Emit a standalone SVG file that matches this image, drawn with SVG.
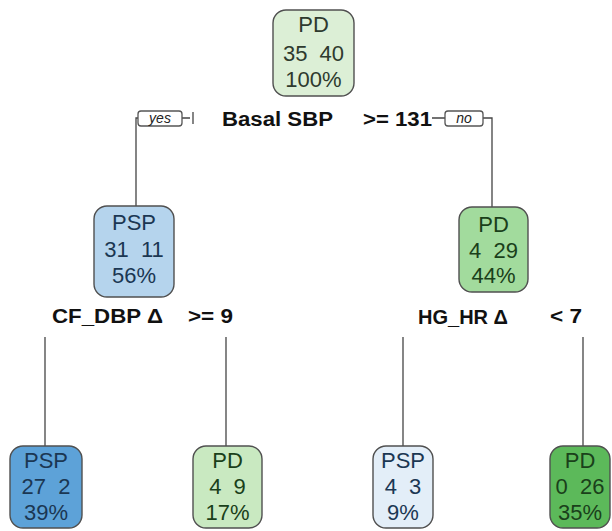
<svg xmlns="http://www.w3.org/2000/svg" width="612" height="531" viewBox="0 0 612 531">
<style>
.box{stroke:#505050;stroke-width:1.4}
.nt{font-family:"Liberation Sans",Arial,sans-serif;font-size:22px;text-anchor:middle;white-space:pre}
.sl{font-family:"Liberation Sans",Arial,sans-serif;font-size:20px;font-weight:bold;fill:#111}
.yn{font-family:"Liberation Sans",Arial,sans-serif;font-size:14px;font-style:italic;fill:#222;text-anchor:middle}
.ynb{fill:#fff;stroke:#555;stroke-width:1.3}
.ln{stroke:#444;stroke-width:1.3;fill:none}
.blue{fill:#1b3753}
.green{fill:#1a401a}
</style>
<g id="connectors">
<path class="ln" d="M190,118 H136 V206"/>
<path class="ln" d="M432,118 H492 V207"/>
<line class="ln" x1="193" y1="112" x2="193" y2="124" stroke="#aaa"/>
<line class="ln" x1="45" y1="337" x2="45" y2="446"/>
<line class="ln" x1="226" y1="337" x2="226" y2="446"/>
<line class="ln" x1="403" y1="337" x2="403" y2="446"/>
<line class="ln" x1="583" y1="337" x2="583" y2="446"/>
<rect class="ynb" x="138" y="111" width="44" height="15" rx="3"/>
<text class="yn" x="160" y="123">yes</text>
<rect class="ynb" x="445" y="111" width="38" height="15" rx="3"/>
<text class="yn" x="464" y="123">no</text>
</g>
<g id="split-labels">
<text class="sl" x="222" y="126" textLength="111" lengthAdjust="spacingAndGlyphs">Basal SBP</text>
<text class="sl" x="363" y="126" textLength="69" lengthAdjust="spacingAndGlyphs">&gt;= 131</text>
<text class="sl" x="52" y="323" textLength="111" lengthAdjust="spacingAndGlyphs">CF_DBP Δ</text>
<text class="sl" x="188" y="323" textLength="45" lengthAdjust="spacingAndGlyphs">&gt;= 9</text>
<text class="sl" x="418" y="324" textLength="90" lengthAdjust="spacingAndGlyphs">HG_HR Δ</text>
<text class="sl" x="550" y="323" textLength="32" lengthAdjust="spacingAndGlyphs">&lt; 7</text>
</g>
<g id="node-root">
<rect class="box" x="273" y="10" width="81" height="86" rx="13" fill="#dcefd6"/>
<text class="nt" x="313.5" y="32" fill="#2e3a2e">PD</text>
<text class="nt" x="313.5" y="61" fill="#2e3a2e">35  40</text>
<text class="nt" x="313.5" y="87" fill="#2e3a2e">100%</text>
</g>
<g id="node-psp1">
<rect class="box" x="94" y="206" width="80" height="91" rx="13" fill="#b5d4ed"/>
<text class="nt blue" x="134" y="230">PSP</text>
<text class="nt blue" x="134" y="257">31  11</text>
<text class="nt blue" x="134" y="283">56%</text>
</g>
<g id="node-pd1">
<rect class="box" x="459" y="207" width="69" height="85" rx="13" fill="#a2db9d"/>
<text class="nt green" x="493.5" y="232">PD</text>
<text class="nt green" x="493.5" y="258">4  29</text>
<text class="nt green" x="493.5" y="283">44%</text>
</g>
<g id="leaf-psp-a">
<rect class="box" x="10" y="446" width="72" height="82" rx="13" fill="#5da2d8"/>
<text class="nt blue" x="46" y="468">PSP</text>
<text class="nt blue" x="46" y="494">27  2</text>
<text class="nt blue" x="46" y="520">39%</text>
</g>
<g id="leaf-pd-a">
<rect class="box" x="193" y="446" width="69" height="82" rx="13" fill="#c9e9c1"/>
<text class="nt green" x="227.5" y="468">PD</text>
<text class="nt green" x="227.5" y="494">4  9</text>
<text class="nt green" x="227.5" y="520">17%</text>
</g>
<g id="leaf-psp-b">
<rect class="box" x="373" y="446" width="60" height="82" rx="13" fill="#e3eef8"/>
<text class="nt blue" x="403" y="468">PSP</text>
<text class="nt blue" x="403" y="494">4  3</text>
<text class="nt blue" x="403" y="520">9%</text>
</g>
<g id="leaf-pd-b">
<rect class="box" x="550" y="446" width="60" height="82" rx="13" fill="#5cb95a"/>
<text class="nt green" x="580" y="468">PD</text>
<text class="nt green" x="580" y="494">0  26</text>
<text class="nt green" x="580" y="520">35%</text>
</g>
</svg>
